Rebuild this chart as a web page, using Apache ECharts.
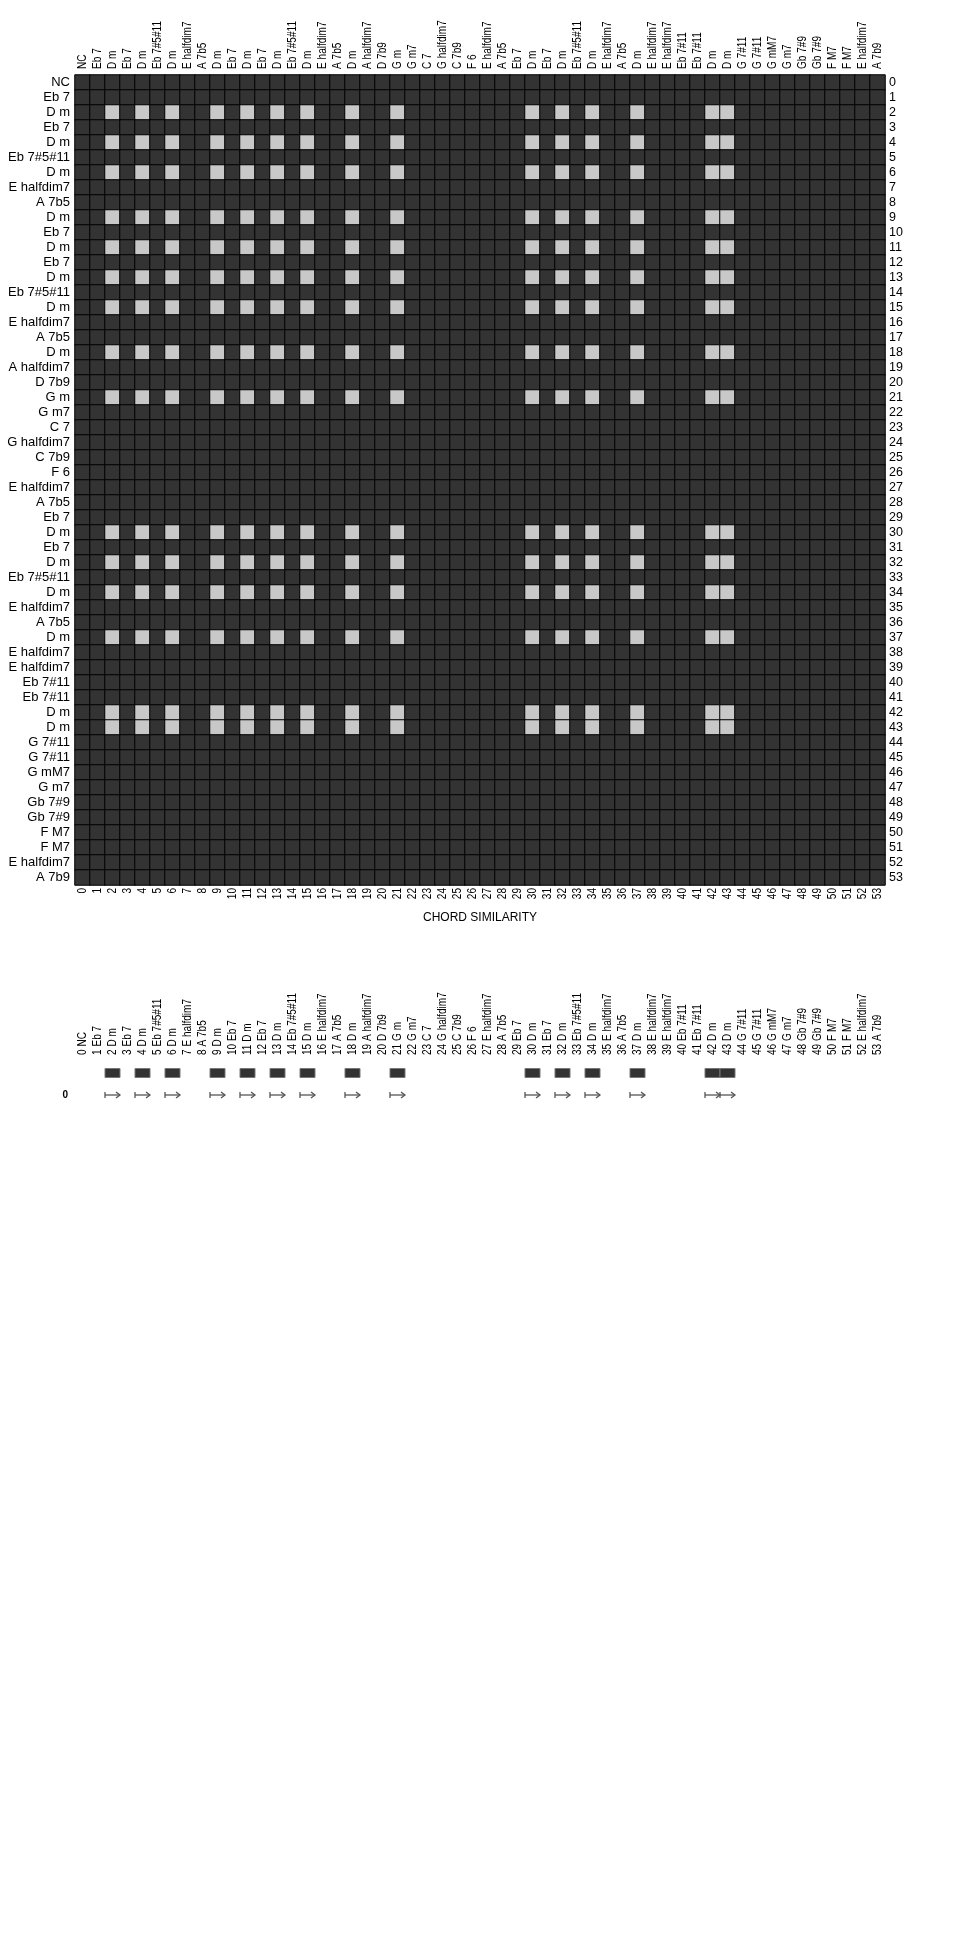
<!DOCTYPE html>
<html><head><meta charset="utf-8">
<script src="https://cdn.jsdelivr.net/npm/echarts@6/dist/echarts.min.js"></script>
<style>html,body{margin:0;padding:0;background:#fff}#c{width:960px;height:1940px}</style>
</head><body><div id="c"></div>
<script>
// ---- data ----
const chords = ['NC','Eb 7','D m','Eb 7','D m','Eb 7#5#11','D m','E halfdim7','A 7b5','D m',
  'Eb 7','D m','Eb 7','D m','Eb 7#5#11','D m','E halfdim7','A 7b5','D m','A halfdim7',
  'D 7b9','G m','G m7','C 7','G halfdim7','C 7b9','F 6','E halfdim7','A 7b5','Eb 7',
  'D m','Eb 7','D m','Eb 7#5#11','D m','E halfdim7','A 7b5','D m','E halfdim7','E halfdim7',
  'Eb 7#11','Eb 7#11','D m','D m','G 7#11','G 7#11','G mM7','G m7','Gb 7#9','Gb 7#9',
  'F M7','F M7','E halfdim7','A 7b9'];
const indexLabels = chords.map((_, i) => String(i));
const pairLabels = chords.map((n, i) => i + ' ' + n);
// one string per row, one digit per column (1 = similar)
const H = '00101010' + '01010101' + '00100100' + '00000010' + '10100100' + '00110000' + '000000';
const Z = '00000000' + '00000000' + '00000000' + '00000000' + '00000000' + '00000000' + '000000';
const similarityRows = [Z,Z,H,Z,H,Z,H,Z,Z,H, Z,H,Z,H,Z,H,Z,Z,H,Z, Z,H,Z,Z,Z,Z,Z,Z,Z,Z,
  H,Z,H,Z,H,Z,Z,H,Z,Z, Z,Z,H,H,Z,Z,Z,Z,Z,Z, Z,Z,Z,Z];
const matchCols = [2,4,6,9,11,13,15,18,21,30,32,34,37,42,43];
const rowLabels2 = ['', '0'];

// ---- build ----
const heat = [];
similarityRows.forEach((row, r) => {
  for (let c = 0; c < row.length; c++) heat.push([c, r, Number(row[c])]);
});
const FONT = 'Liberation Sans';
const lbl = (extra) => Object.assign({color:'#000', fontFamily:FONT, fontSize:12.5, interval:0,
  overflow:'none', hideOverlap:false}, extra);
const ax = (extra) => Object.assign({type:'category', axisLine:{show:false}, axisTick:{show:false},
  splitLine:{show:false}}, extra);

// rotated (bottom-to-top) column labels drawn as condensed text at the axis band centres
function colLabelSeries(xi, yi, texts, side, gap) {
  return {type:'custom', xAxisIndex:xi, yAxisIndex:yi, silent:true, clip:false, z:5,
    data:texts.map((_, i) => [i, 0]),
    renderItem:(p, api) => {
      const x = api.coord([api.value(0), 0])[0];
      const cs = p.coordSys;
      const y = side === 'top' ? cs.y - gap : cs.y + cs.height + gap;
      return {type:'text', x:x, y:y, rotation:Math.PI/2, scaleX:0.84, scaleY:1.1,
        style:{text:texts[p.dataIndex], fontFamily:FONT, fontSize:12, fill:'#000',
          align: side === 'top' ? 'left' : 'right', verticalAlign:'middle'}};
    }};
}

const chart = echarts.init(document.getElementById('c'), null, {renderer:'canvas'});
chart.setOption({
  animation:false,
  backgroundColor:'#fff',
  title:{text:'CHORD SIMILARITY', left:'center', top:907,
    textStyle:{fontFamily:FONT, fontSize:12, fontWeight:'normal', color:'#000'}},
  grid:[
    {left:75, top:75, width:810, height:810, containLabel:false, outerBoundsMode:'none'},
    {left:75, top:1062, width:810, height:44, containLabel:false, outerBoundsMode:'none'}
  ],
  visualMap:{type:'piecewise', show:false, seriesIndex:0, dimension:2,
    pieces:[{value:0, color:'#333333'}, {value:1, color:'#c8c8c8'}]},
  xAxis:[
    ax({gridIndex:0, position:'top', data:chords, axisLabel:{show:false}}),
    ax({gridIndex:1, position:'top', data:pairLabels, axisLabel:{show:false}})
  ],
  yAxis:[
    ax({gridIndex:0, position:'left', inverse:true, data:chords, axisLabel:lbl({margin:5, fontSize:13})}),
    ax({gridIndex:0, position:'right', inverse:true, data:indexLabels, axisLabel:lbl({margin:4})}),
    ax({gridIndex:1, position:'left', inverse:true, data:rowLabels2,
      axisLabel:lbl({margin:7, fontSize:10, fontWeight:'bold'})})
  ],
  series:[
    {type:'heatmap', xAxisIndex:0, yAxisIndex:0, data:heat,
      itemStyle:{borderColor:'#000', borderWidth:1},
      emphasis:{disabled:true}, silent:true},
    colLabelSeries(0, 0, chords, 'top', 6),
    colLabelSeries(0, 0, indexLabels, 'bottom', 3),
    colLabelSeries(1, 2, pairLabels, 'top', 7),
    {type:'custom', xAxisIndex:1, yAxisIndex:2, silent:true,
      data:matchCols.map(c => [c, 0]),
      renderItem:(p, api) => {
        const pt = api.coord([api.value(0), api.value(1)]);
        const s = api.size([1, 1]);
        return {type:'rect', shape:{x:pt[0]-s[0]/2, y:pt[1]-4.5, width:s[0], height:9},
          style:{fill:'#333333', stroke:'#777', lineWidth:1}};
      }},
    {type:'custom', xAxisIndex:1, yAxisIndex:2, silent:true,
      data:matchCols.map(c => [c, 1]),
      renderItem:(p, api) => {
        const pt = api.coord([api.value(0), api.value(1)]);
        const s = api.size([1, 1]);
        const x0 = pt[0]-s[0]/2, x1 = pt[0]+s[0]/2, y = pt[1];
        const st = {stroke:'#555', lineWidth:1.3, fill:null};
        return {type:'group', children:[
          {type:'line', shape:{x1:x0, y1:y-3, x2:x0, y2:y+3}, style:st},
          {type:'line', shape:{x1:x0, y1:y, x2:x1, y2:y}, style:st},
          {type:'polyline', shape:{points:[[x1-4, y-3],[x1, y],[x1-4, y+3]]}, style:st}
        ]};
      }}
  ]
});
</script></body></html>
